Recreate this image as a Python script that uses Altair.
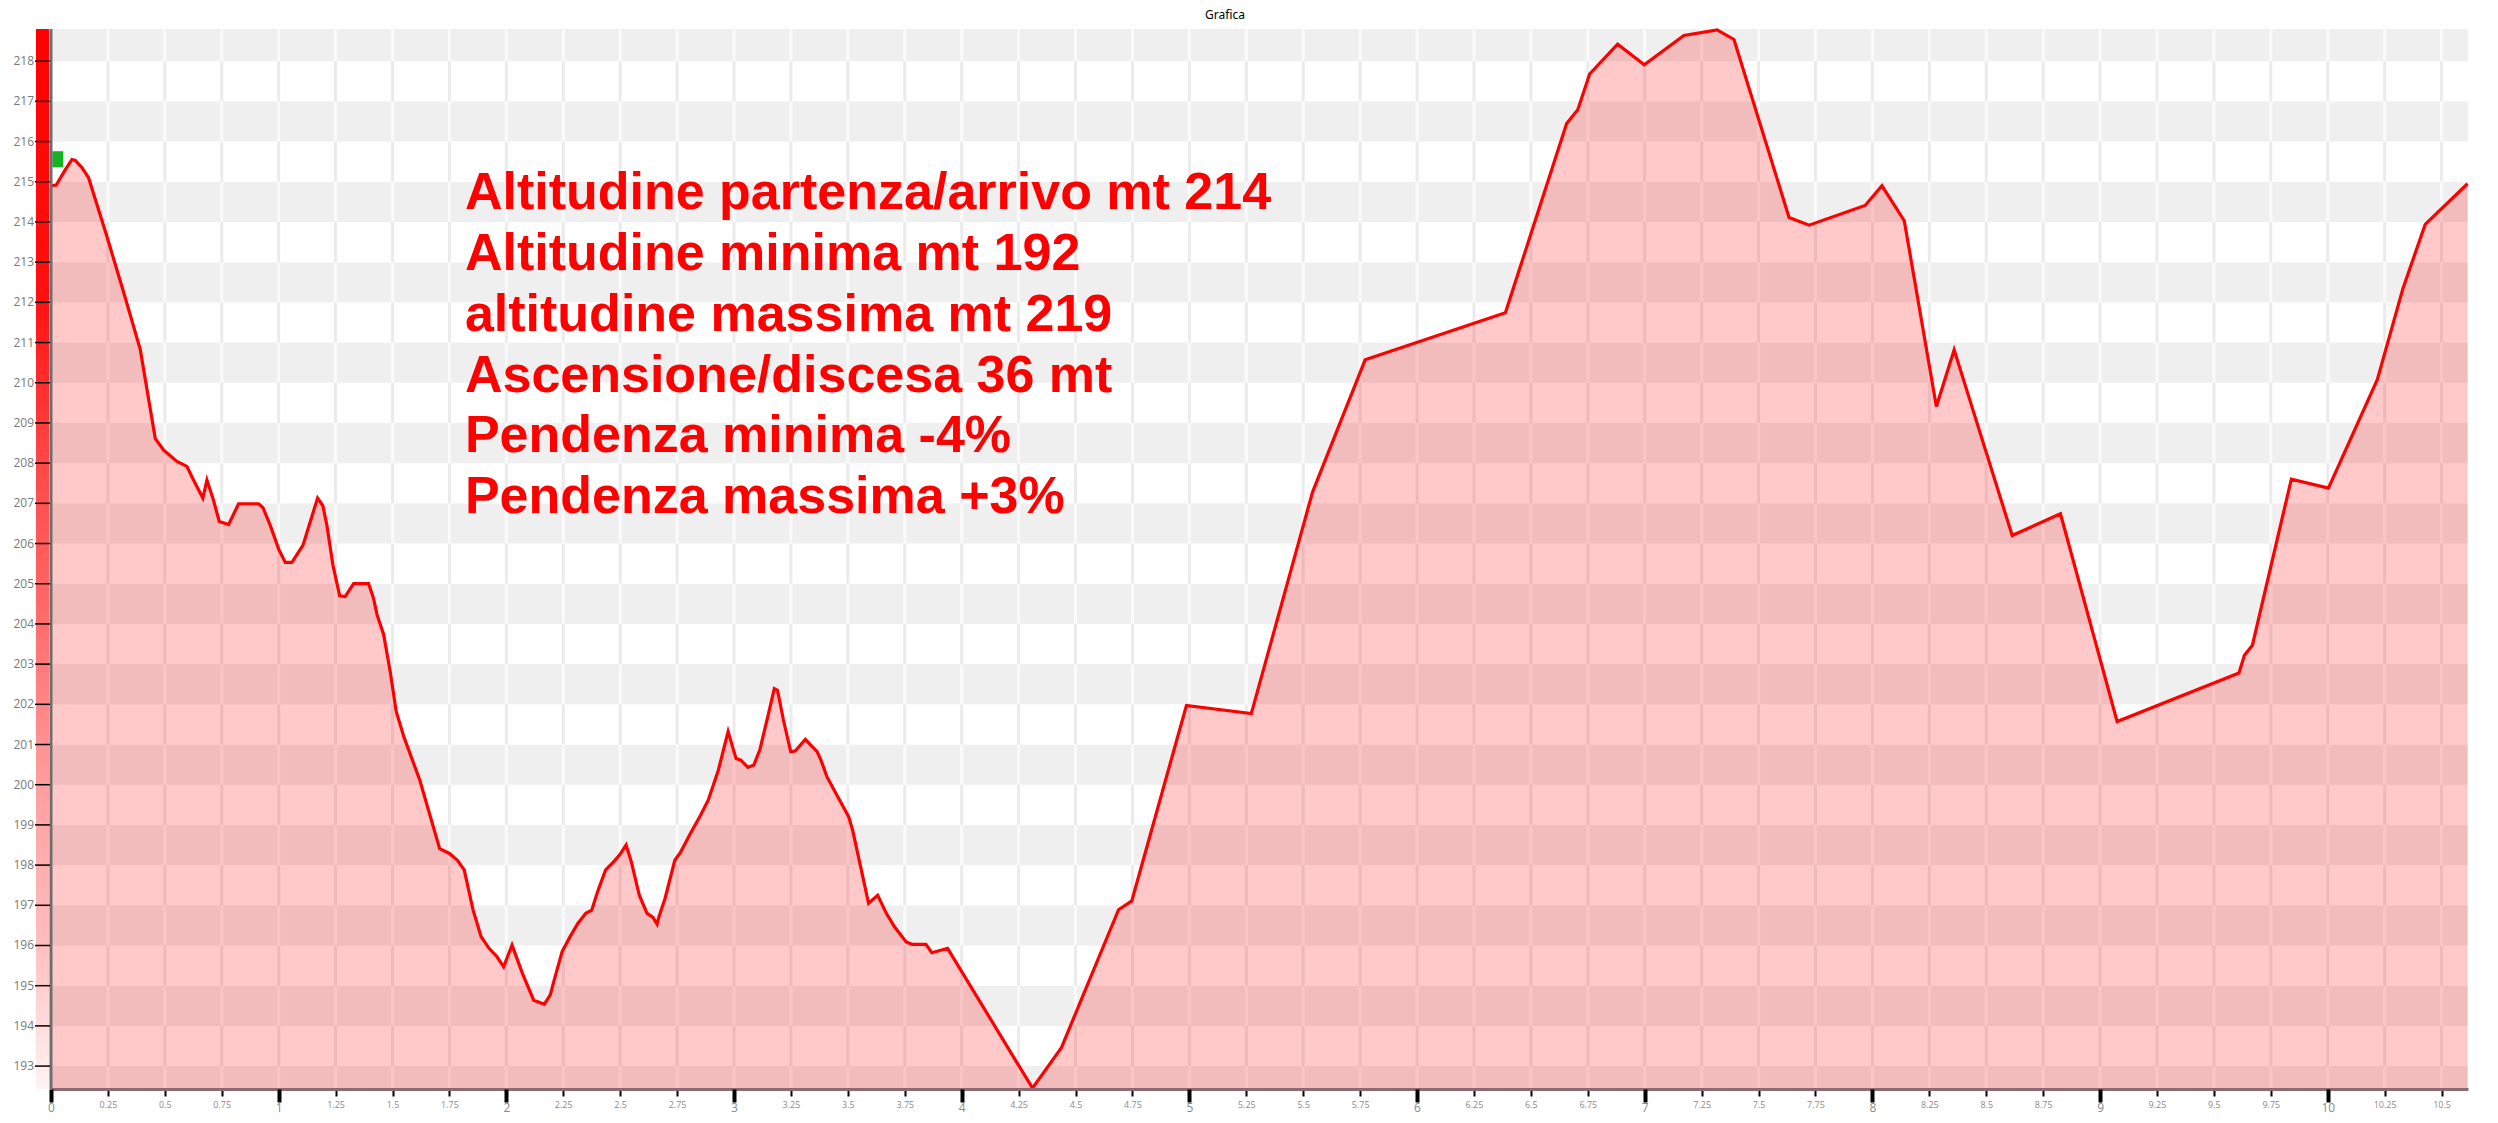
import altair as alt
import pandas as pd
import numpy as np

# ---------------- data ----------------
km = [0.0, 0.023, 0.063, 0.092, 0.107, 0.136, 0.165, 0.246, 0.319, 0.392,
      0.458, 0.495, 0.553, 0.597, 0.626, 0.667, 0.685, 0.711, 0.739, 0.780,
      0.824, 0.912, 0.931, 0.963, 1.000, 1.029, 1.058, 1.107, 1.139, 1.171,
      1.194, 1.212, 1.238, 1.268, 1.292, 1.329, 1.395, 1.417, 1.432, 1.461,
      1.490, 1.516, 1.550, 1.620, 1.707, 1.750, 1.785, 1.815, 1.854, 1.889,
      1.924, 1.959, 1.988, 2.025, 2.071, 2.120, 2.167, 2.193, 2.210, 2.245,
      2.280, 2.314, 2.349, 2.375, 2.401, 2.436, 2.471, 2.497, 2.526, 2.549,
      2.584, 2.618, 2.644, 2.662, 2.670, 2.697, 2.740, 2.766, 2.809, 2.853,
      2.887, 2.931, 2.974, 3.009, 3.030, 3.061, 3.087, 3.113, 3.148, 3.177,
      3.191, 3.217, 3.249, 3.269, 3.313, 3.365, 3.382, 3.408, 3.452, 3.504,
      3.521, 3.556, 3.591, 3.631, 3.669, 3.704, 3.756, 3.782, 3.843, 3.869,
      3.938, 4.311, 4.438, 4.689, 4.747, 4.987, 5.272, 5.541, 5.772, 6.388,
      6.657, 6.706, 6.758, 6.881, 6.998, 7.172, 7.318, 7.392, 7.634, 7.722,
      7.968, 8.042, 8.140, 8.281, 8.359, 8.614, 8.826, 9.075, 9.610, 9.634,
      9.669, 9.840, 10.003, 10.218, 10.330, 10.428, 10.614]
altitude = [214.90, 214.92, 215.30, 215.55, 215.53, 215.35, 215.10, 213.63, 212.25, 210.83,
            208.61, 208.32, 208.04, 207.92, 207.58, 207.13, 207.58, 207.13, 206.55, 206.47,
            206.99, 206.99, 206.89, 206.45, 205.86, 205.53, 205.53, 205.96, 206.55, 207.13,
            206.94, 206.45, 205.47, 204.70, 204.68, 205.00, 205.00, 204.63, 204.23, 203.74,
            202.81, 201.83, 201.19, 200.11, 198.41, 198.29, 198.12, 197.88, 196.88, 196.22,
            195.93, 195.72, 195.47, 196.01, 195.30, 194.64, 194.54, 194.77, 195.14, 195.85,
            196.22, 196.55, 196.80, 196.88, 197.34, 197.88, 198.08, 198.25, 198.50, 198.08,
            197.25, 196.80, 196.70, 196.53, 196.71, 197.17, 198.12, 198.33, 198.79, 199.24,
            199.62, 200.36, 201.32, 200.65, 200.61, 200.43, 200.49, 200.86, 201.69, 202.39,
            202.35, 201.61, 200.82, 200.84, 201.13, 200.82, 200.61, 200.20, 199.74, 199.20,
            198.87, 197.96, 197.05, 197.25, 196.80, 196.47, 196.09, 196.03, 196.03, 195.82,
            195.93, 192.45, 193.46, 196.89, 197.11, 201.97, 201.77, 207.28, 210.57, 211.74,
            216.45, 216.79, 217.68, 218.42, 217.91, 218.64, 218.78, 218.54, 214.11, 213.92,
            214.41, 214.90, 214.03, 209.41, 210.82, 206.20, 206.74, 201.57, 202.78, 203.22,
            203.47, 207.60, 207.38, 210.08, 212.34, 213.94, 214.95]

y_tick_values = list(range(193, 219))
x_all_ticks = [float(round(v, 2)) for v in np.arange(0, 10.51, 0.25)]
x_major_ticks = [v for v in x_all_ticks if v % 1 == 0]          # 0, 1, ..., 10
x_minor_ticks = [v for v in x_all_ticks if v % 1 != 0]          # 0.25, 0.5, 0.75, ...
band_starts = list(range(192, 219))          # 1-metre horizontal bands
grid_positions = x_all_ticks[1:]             # vertical grid every 0.25 km

info_lines = ["Altitudine partenza/arrivo mt 214",
              "Altitudine minima mt 192",
              "altitudine massima mt 219",
              "Ascensione/discesa 36 mt",
              "Pendenza minima -4%",
              "Pendenza massima +3%"]
info_x = [1.818] * 6
info_y = [214.31, 212.80, 211.29, 209.78, 208.27, 206.76]

marker_x = [0.006]
marker_x2 = [0.054]
marker_y = [215.36]
marker_y2 = [215.76]

window_title = ["Grafica"]

X_DOMAIN = [0, 10.616]
Y_DOMAIN = [192.43, 218.80]
W, H = 2417, 1060

# ---------------- tables ----------------
profile = pd.DataFrame({"km": km, "alt": altitude})
bands = pd.DataFrame({"lo": band_starts, "hi": [b + 1 for b in band_starts],
                      "fill": ["#efefef" if b % 2 == 0 else "#ffffff" for b in band_starts]})
grid = pd.DataFrame([{"gx": g, "lo": b, "hi": b + 1,
                      "c": "#fafafa" if b % 2 == 0 else "#ebebeb"}
                     for b in band_starts for g in grid_positions])
info = pd.DataFrame({"tx": info_x, "ty": info_y, "t": info_lines})
marker = pd.DataFrame({"mx": marker_x, "mx2": marker_x2, "my": marker_y, "my2": marker_y2})
yticks = pd.DataFrame({"v": y_tick_values, "lab": [str(v) for v in y_tick_values]})
title_df = pd.DataFrame({"t": window_title})

xs = alt.Scale(domain=X_DOMAIN, nice=False, zero=False)
ys = alt.Scale(domain=Y_DOMAIN, nice=False, zero=False)

x_axis_minor = alt.Axis(
    values=x_minor_ticks, orient="bottom", title="", grid=False, zindex=1,
    labelExpr="'' + datum.value",
    labelColor="#8a8a8a", labelFont="Open Sans", labelFontSize=9, labelPadding=4,
    tickColor="#000000", tickWidth=2, tickSize=7,
    domainColor="#8c6b73", domainWidth=3, labelOverlap=False, labelFlush=False,
)
x_axis_major = alt.Axis(
    values=x_major_ticks, orient="bottom", title="", grid=False, zindex=1,
    labelExpr="'' + datum.value",
    labelColor="#8a8a8a", labelFont="Open Sans", labelFontSize=12, labelPadding=0,
    tickColor="#000000", tickWidth=4, tickSize=13,
    domain=False, labelOverlap=False, labelFlush=False,
)

axis_layer_minor = alt.Chart(profile).mark_point(opacity=0).encode(
    x=alt.X("km:Q", scale=xs, axis=x_axis_minor),
    y=alt.Y("alt:Q", scale=ys, axis=None),
)
axis_layer_major = alt.Chart(profile).mark_point(opacity=0).encode(
    x=alt.X("km:Q", scale=xs, axis=x_axis_major),
    y=alt.Y("alt:Q", scale=ys, axis=None),
)
band_layer = alt.Chart(bands).mark_rect(clip=True).encode(
    x=alt.value(0), x2=alt.value(W),
    y=alt.Y("lo:Q", scale=ys, axis=None), y2=alt.Y2("hi:Q"),
    color=alt.Color("fill:N", scale=None),
)
grid_layer = alt.Chart(grid).mark_rule(clip=True, strokeWidth=3).encode(
    x=alt.X("gx:Q", scale=xs, axis=None),
    y=alt.Y("lo:Q", scale=ys, axis=None), y2=alt.Y2("hi:Q"),
    color=alt.Color("c:N", scale=None),
)
area_layer = alt.Chart(profile).mark_area(color="#ff0000", opacity=0.21, clip=True).encode(
    x=alt.X("km:Q", scale=xs, axis=None),
    y=alt.Y("alt:Q", scale=ys, axis=None),
)
line_layer = alt.Chart(profile).mark_line(color="#ff0000", strokeWidth=3.2).encode(
    x=alt.X("km:Q", scale=xs, axis=None),
    y=alt.Y("alt:Q", scale=ys, axis=None),
)
marker_layer = alt.Chart(marker).mark_rect(color="#16b422").encode(
    x=alt.X("mx:Q", scale=xs, axis=None), x2=alt.X2("mx2:Q"),
    y=alt.Y("my:Q", scale=ys, axis=None), y2=alt.Y2("my2:Q"),
)
bar_gradient = alt.Gradient(
    gradient="linear",
    stops=[alt.GradientStop(color="#ff0000", offset=0),
           alt.GradientStop(color="#ff1010", offset=0.25),
           alt.GradientStop(color="#ff4545", offset=0.4),
           alt.GradientStop(color="#ff6a6a", offset=0.55),
           alt.GradientStop(color="#ffa0a0", offset=0.72),
           alt.GradientStop(color="#ffbdbd", offset=0.86),
           alt.GradientStop(color="#fff4f4", offset=1)],
    x1=0, x2=0, y1=0, y2=1,
)
bar_layer = alt.Chart(marker).mark_rect(color=bar_gradient).encode(
    x=alt.value(-15), x2=alt.value(-2), y=alt.value(0), y2=alt.value(H),
)
# y axis drawn from the tick-value table through the y scale
y_domain_layer = alt.Chart(marker).mark_rule(color="#6e6e6e", strokeWidth=3).encode(
    x=alt.value(0), y=alt.value(0), y2=alt.value(H),
)
y_tick_layer = alt.Chart(yticks).mark_rule(color="#000000", strokeWidth=1.5).encode(
    x=alt.value(-16), x2=alt.value(-1),
    y=alt.Y("v:Q", scale=ys, axis=None),
)
y_label_layer = alt.Chart(yticks).mark_text(
    align="right", baseline="middle", font="Open Sans", fontSize=12, color="#7a7a7a",
).encode(
    x=alt.value(-17),
    y=alt.Y("v:Q", scale=ys, axis=None),
    text="lab:N",
)
text_layer = alt.Chart(info).mark_text(
    align="left", baseline="alphabetic", font="Liberation Sans",
    fontWeight="bold", fontSize=52, color="#ff0000",
).encode(
    x=alt.X("tx:Q", scale=xs, axis=None),
    y=alt.Y("ty:Q", scale=ys, axis=None),
    text="t:N",
)
title_layer = alt.Chart(title_df).mark_text(
    align="center", baseline="top", font="Noto Sans", fontSize=12, color="#000000",
).encode(
    x=alt.value(1174), y=alt.value(-19), text="t:N",
)

chart = alt.layer(
    band_layer, grid_layer, area_layer, line_layer, marker_layer,
    bar_layer, y_domain_layer, y_tick_layer, y_label_layer, text_layer, title_layer,
    axis_layer_minor, axis_layer_major
).resolve_axis(x="independent").properties(
    width=W, height=H,
    padding={"left": 43, "top": 21, "right": 22, "bottom": 26},
    autosize=alt.AutoSizeParams(type="none"),
).configure(background="#ffffff").configure_view(stroke=None)

chart.save("out.html", embed_options={"renderer": "svg", "actions": False})
